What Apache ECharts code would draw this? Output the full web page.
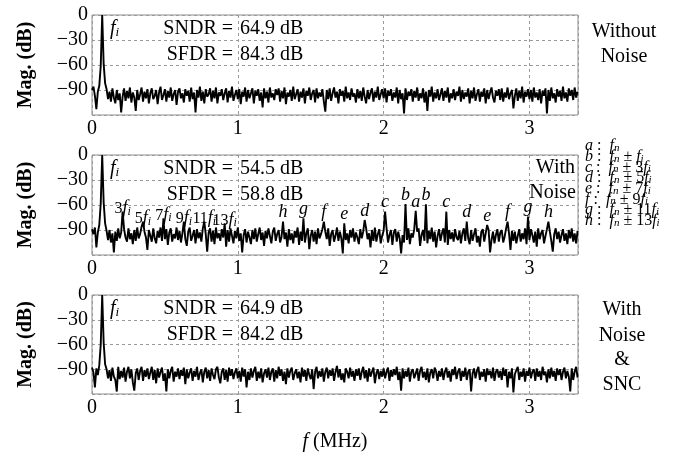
<!DOCTYPE html>
<html><head><meta charset="utf-8">
<script src="https://cdn.jsdelivr.net/npm/echarts@6/dist/echarts.min.js"></script>
<style>html,body{margin:0;padding:0;background:#fff}#c{width:693px;height:457px}</style>
</head><body><div id="c"></div>
<script>
// ---------- data ----------
const binWidthMHz = 0.01;          // FFT bin spacing of the spectra below (index i -> i*0.01 MHz)
const xTicks = [0, 1, 2, 3];
const yTicks = [0, -30, -60, -90];
const panelNames = ['Without Noise', 'With Noise', 'With Noise & SNC'];
const panelSNDR = ['64.9', '54.5', '64.9'];
const panelSFDR = ['84.3', '58.8', '84.2'];

// spectrum without noise (dB)
const specWithoutNoise = [
-90,-86,-97,-113,-92,-85,-61,0,-59,-82,-89,-101,-92,-104,-88,-99,-106,-90,-102,-94,
-117,-98,-88,-103,-91,-100,-87,-105,-93,-99,-115,-90,-102,-95,-87,-104,-92,-100,-89,-106,
-94,-88,-101,-97,-90,-107,-93,-86,-102,-96,-89,-104,-91,-99,-87,-103,-95,-90,-108,-92,
-88,-100,-94,-105,-89,-97,-91,-104,-87,-101,-93,-117,-90,-99,-86,-103,-92,-106,-89,-98,
-95,-88,-104,-91,-100,-87,-106,-93,-97,-89,-102,-94,-88,-105,-91,-99,-86,-103,-96,-90,
-101,-89,-107,-92,-98,-87,-104,-90,-100,-94,-88,-106,-91,-97,-89,-103,-93,-111,-88,-100,
-92,-105,-87,-99,-94,-102,-89,-96,-88,-104,-91,-100,-87,-107,-93,-98,-90,-103,-86,-101,
-95,-89,-104,-92,-99,-88,-106,-91,-97,-87,-102,-94,-90,-105,-88,-100,-93,-98,-89,-104,
-116,-90,-101,-88,-103,-94,-87,-99,-92,-106,-89,-97,-91,-104,-86,-100,-93,-102,-88,-98,
-94,-105,-89,-100,-91,-103,-87,-98,-106,-90,-101,-93,-88,-104,-92,-99,-86,-102,-95,-89,
-100,-88,-105,-91,-97,-89,-103,-93,-99,-87,-106,-90,-101,-94,-118,-88,-102,-92,-97,-89,
-104,-91,-99,-87,-103,-94,-100,-88,-105,-92,-115,-90,-98,-86,-104,-93,-100,-89,-102,-95,
-88,-103,-91,-99,-87,-105,-94,-100,-89,-102,-92,-97,-86,-104,-90,-101,-93,-98,-88,-106,
-91,-100,-87,-103,-95,-89,-104,-92,-98,-88,-106,-90,-101,-93,-87,-99,-105,-91,-97,-89,
-102,-88,-104,-93,-99,-87,-101,-94,-90,-112,-97,-88,-103,-91,-100,-86,-105,-92,-98,-89,
-101,-90,-104,-87,-99,-93,-102,-89,-106,-91,-97,-88,-118,-90,-103,-87,-100,-94,-105,-89,
-98,-91,-103,-86,-100,-93,-104,-88,-97,-90,-102,-87,-99,-92
];

// noise floor of the spectrum with noise (dB); spurs listed separately below
const floorWithNoise = [
-89,-95,-87,-111,-93,-84,-58,0,-57,-82,-91,-102,-90,-105,-94,-117,-92,-103,-88,-100,
-93,-106,-89,-99,-104,-88,-101,-94,-107,-90,-103,-87,-100,-95,-86,-105,-92,-99,-114,-90,
-97,-104,-88,-100,-106,-91,-99,-87,-103,-94,-101,-89,-108,-93,-88,-104,-95,-100,-87,-102,
-91,-105,-94,-88,-101,-109,-92,-87,-103,-97,-90,-106,-89,-100,-93,-104,-88,-102,-95,-116,
-93,-88,-104,-91,-107,-87,-100,-94,-103,-89,-99,-92,-110,-90,-104,-88,-97,-106,-91,-100,
-87,-103,-94,-117,-96,-89,-105,-92,-99,-107,-90,-101,-88,-104,-95,-87,-102,-93,-109,-91,
-100,-88,-97,-106,-92,-87,-103,-95,-90,-105,-98,-88,-101,-93,-110,-89,-102,-94,-106,-91,
-99,-87,-108,-92,-103,-89,-105,-94,-88,-113,-97,-90,-104,-92,-107,-88,-100,-95,-89,-105,
-92,-101,-88,-109,-95,-90,-104,-97,-87,-103,-92,-100,-118,-89,-102,-94,-106,-90,-99,-88,
-104,-93,-99,-107,-89,-100,-92,-105,-88,-101,-94,-111,-90,-103,-87,-104,-95,-89,-106,-97,
-91,-102,-88,-105,-96,-90,-108,-93,-89,-104,-92,-100,-118,-96,-105,-90,-102,-88,-107,-94,
-99,-89,-105,-92,-88,-109,-96,-90,-103,-94,-106,-91,-101,-87,-104,-92,-111,-97,-89,-103,
-94,-88,-105,-96,-108,-90,-101,-93,-104,-89,-99,-102,-91,-106,-94,-88,-103,-92,-100,-107,
-90,-103,-95,-88,-105,-97,-110,-92,-89,-104,-94,-101,-90,-117,-102,-92,-106,-96,-89,-104,
-93,-90,-105,-98,-88,-108,-94,-114,-91,-103,-92,-106,-97,-89,-104,-94,-101,-88,-107,-92,
-102,-89,-96,-105,-92,-110,-88,-101,-94,-90,-106,-97,-89,-104,-92,-103,-116,-95,-88,-101,
-92,-105,-96,-89,-103,-94,-107,-90,-100,-88,-104,-94,-106,-91
];

// harmonic spurs n*fi (MHz, dB)
const harmonicOrders = ['3', '5', '7', '9', '11', '13'];
const harmonicFreqs  = [0.21, 0.35, 0.49, 0.63, 0.77, 0.91];
const harmonicLevels = [-68, -80, -76, -80, -80, -82];

// intermodulation spurs around fn (MHz, dB)
const imdLabels = ['h', 'g', 'f', 'e', 'd', 'c', 'b', 'a', 'b', 'c', 'd', 'e', 'f', 'g', 'h'];
const imdFreqs  = [1.31, 1.45, 1.59, 1.73, 1.87, 2.01, 2.15, 2.22, 2.29, 2.43, 2.57, 2.71, 2.85, 2.99, 3.13];
const imdLevels = [-80, -76, -80, -82, -78, -68, -58.8, -67, -59, -68, -80, -84, -80, -74, -80];

// key on the right of panel 2
const keyLetters   = ['a', 'b', 'c', 'd', 'e', 'f', 'g', 'h'];
const keyMultiples = [null, '', '3', '5', '7', '9', '11', '13'];

// spectrum with noise and SNC (dB)
const specWithSNC = [
-88,-94,-112,-89,-97,-85,-60,0,-58,-84,-90,-101,-91,-104,-88,-99,-103,-117,-87,-102,
-92,-100,-88,-105,-93,-87,-101,-90,-106,-116,-95,-89,-103,-92,-87,-104,-91,-99,-89,-102,
-94,-87,-103,-91,-107,-89,-100,-93,-88,-104,-95,-117,-90,-101,-92,-87,-105,-93,-99,-89,
-102,-91,-98,-88,-108,-90,-101,-94,-89,-104,-92,-99,-87,-103,-95,-90,-106,-93,-88,-101,
-91,-104,-89,-97,-102,-90,-87,-100,-107,-93,-89,-103,-91,-105,-88,-98,-90,-102,-94,-89,
-101,-92,-105,-88,-99,-90,-112,-93,-103,-89,-100,-92,-87,-104,-93,-101,-89,-106,-95,-90,
-100,-88,-103,-93,-89,-105,-91,-101,-87,-98,-90,-104,-93,-108,-89,-100,-92,-88,-103,-95,
-90,-101,-93,-106,-88,-99,-91,-104,-89,-97,-102,-90,-114,-93,-87,-101,-92,-99,-89,-105,
-93,-88,-101,-91,-98,-89,-104,-93,-86,-100,-90,-103,-95,-106,-89,-93,-101,-88,-99,-92,
-104,-90,-98,-89,-103,-93,-87,-101,-91,-105,-89,-99,-93,-88,-107,-95,-90,-102,-92,-99,
-89,-101,-93,-88,-104,-91,-99,-90,-97,-87,-103,-93,-116,-89,-101,-92,-99,-88,-105,-93,
-90,-101,-95,-89,-104,-92,-87,-100,-93,-103,-89,-106,-94,-90,-101,-88,-93,-104,-92,-99,
-89,-103,-93,-88,-100,-92,-105,-90,-97,-87,-102,-93,-89,-104,-92,-99,-88,-103,-93,-90,
-117,-95,-89,-101,-92,-87,-103,-93,-99,-90,-105,-89,-97,-92,-101,-88,-104,-93,-90,-100,
-92,-103,-88,-98,-90,-112,-93,-101,-89,-118,-96,-91,-87,-103,-93,-99,-89,-105,-92,-98,
-88,-101,-93,-90,-104,-89,-99,-92,-103,-87,-97,-93,-106,-90,-101,-88,-99,-92,-104,-89,
-97,-90,-103,-93,-88,-101,-92,-99,-117,-89,-103,-93,-87,-100
];

// ---------- build ----------
const SERIF = '"Liberation Serif","Times New Roman",serif';
const FS = 20;
const toPairs = vals => vals.map((v, i) => [+(i * binWidthMHz).toFixed(4), v]);

const specWithNoise = floorWithNoise.slice();
function addSpur(f, lv) {
  const k = Math.round(f / binWidthMHz);
  specWithNoise[k] = Math.max(specWithNoise[k], lv);
}
harmonicFreqs.forEach((f, k) => addSpur(f, harmonicLevels[k]));
imdFreqs.forEach((f, k) => addSpur(f, imdLevels[k]));

const spectra = [specWithoutNoise, specWithNoise, specWithSNC];
const gridTops = [15, 155, 295];
const gridH = [100, 100, 99];

const richBig = {
  it: { fontStyle: 'italic', fontSize: FS, fontFamily: SERIF, color: '#000' },
  sub: { fontStyle: 'italic', fontSize: 13, fontFamily: SERIF, color: '#000', padding: [7, 0, 0, 0] }
};
const richSmall = {
  n: { fontSize: 16, fontFamily: SERIF, color: '#000' },
  it: { fontStyle: 'italic', fontSize: 18, fontFamily: SERIF, color: '#000' },
  sub: { fontStyle: 'italic', fontSize: 12, fontFamily: SERIF, color: '#000', padding: [6, 0, 0, 0] }
};
const richKey = {
  it: { fontStyle: 'italic', fontSize: 16, fontFamily: SERIF, color: '#000' },
  n: { fontSize: 16, fontFamily: SERIF, color: '#000' },
  sub: { fontStyle: 'italic', fontSize: 11, fontFamily: SERIF, color: '#000', padding: [4, 0, 0, 0] }
};

const grids = [], xAxes = [], yAxes = [], series = [], graphics = [];
const dashed = { show: true, lineStyle: { color: '#9a9a9a', type: [3, 3], width: 1 } };

gridTops.forEach((top, p) => {
  grids.push({ left: 92, top: top, width: 486, height: gridH[p], show: true, borderColor: '#8c8c8c', borderWidth: 1, containLabel: false });
  xAxes.push({
    type: 'value', gridIndex: p, min: 0, max: 3.333, interval: 1,
    axisLine: { show: false }, axisTick: { show: false }, splitLine: dashed,
    axisLabel: { fontFamily: SERIF, fontSize: FS, color: '#000', margin: 4, showMaxLabel: false,
      formatter: v => xTicks.includes(v) ? String(v) : '' },
    name: p === 2 ? '{it|f} (MHz)' : '', nameLocation: 'middle', nameGap: 38,
    nameTextStyle: { fontFamily: SERIF, fontSize: FS, color: '#000', rich: richBig }
  });
  yAxes.push({
    type: 'value', gridIndex: p, min: -120, max: 0, interval: 30,
    axisLine: { show: false }, axisTick: { show: false }, splitLine: dashed,
    axisLabel: { fontFamily: SERIF, fontSize: FS, color: '#000', margin: 4,
      formatter: v => yTicks.includes(v) ? String(v).replace('-', '\u2212') : '' },
    name: 'Mag. (dB)', nameLocation: 'middle', nameGap: 56, nameRotate: 90,
    nameTextStyle: { fontFamily: SERIF, fontSize: 20, fontWeight: 'bold', color: '#000' }
  });
  const s = {
    type: 'line', xAxisIndex: p, yAxisIndex: p, data: toPairs(spectra[p]),
    symbol: 'none', animation: false, silent: true,
    lineStyle: { color: '#000', width: 1.9 }
  };
  if (p === 1) {
    const mp = [];
    harmonicFreqs.forEach((f, k) => mp.push({
      name: '{n|' + harmonicOrders[k] + '}{it|f}{sub|i}', coord: [f, harmonicLevels[k]],
      label: { offset: [0, 6] }
    }));
    imdFreqs.forEach((f, k) => mp.push({
      name: '{it|' + imdLabels[k] + '}', coord: [f, imdLevels[k]]
    }));
    s.markPoint = {
      symbol: 'circle', symbolSize: 0, silent: true, animation: false,
      label: { show: true, position: 'top', distance: 0, formatter: q => q.name, rich: richSmall },
      data: mp
    };
  }
  series.push(s);

  // annotations
  const yA = top + 14, yB = top + 40;
  const F = FS + 'px ' + SERIF;
  graphics.push(
    { type: 'text', x: 110, y: yA, silent: true, style: { text: '{it|f}{sub|i}', rich: richBig, verticalAlign: 'middle', align: 'left' } },
    { type: 'text', x: 233, y: yA, silent: true, style: { text: 'SNDR =', font: F, fill: '#000', align: 'right', verticalAlign: 'middle' } },
    { type: 'text', x: 240, y: yA, silent: true, style: { text: panelSNDR[p] + ' dB', font: F, fill: '#000', align: 'left', verticalAlign: 'middle' } },
    { type: 'text', x: 233, y: yB, silent: true, style: { text: 'SFDR =', font: F, fill: '#000', align: 'right', verticalAlign: 'middle' } },
    { type: 'text', x: 240, y: yB, silent: true, style: { text: panelSFDR[p] + ' dB', font: F, fill: '#000', align: 'left', verticalAlign: 'middle' } }
  );
});

// side captions
const cap = (x, y, t, align) => ({ type: 'text', x: x, y: y, silent: true, style: { text: t, font: FS + 'px ' + SERIF, fill: '#000', align: align, verticalAlign: 'middle' } });
graphics.push(cap(624, 32, 'Without', 'center'), cap(624, 57, 'Noise', 'center'));
graphics.push(cap(575, 168, 'With', 'right'), cap(576, 193, 'Noise', 'right'));
graphics.push(cap(622, 310, 'With', 'center'), cap(622, 336, 'Noise', 'center'), cap(622, 360, '&', 'center'), cap(622, 385, 'SNC', 'center'));

keyLetters.forEach((L, k) => {
  let t = '{it|' + L + '}{n| :  }{it|f}{sub|n}';
  if (keyMultiples[k] !== null) t += '{n| \u00B1 ' + keyMultiples[k] + '}{it|f}{sub|i}';
  graphics.push({ type: 'text', x: 585, y: 146 + k * 10.7, silent: true, style: { text: t, rich: richKey, align: 'left', verticalAlign: 'middle' } });
});

const chart = echarts.init(document.getElementById('c'), null, { renderer: 'canvas' });
chart.setOption({
  animation: false,
  backgroundColor: '#fff',
  grid: grids, xAxis: xAxes, yAxis: yAxes, series: series, graphic: graphics
});
</script></body></html>
